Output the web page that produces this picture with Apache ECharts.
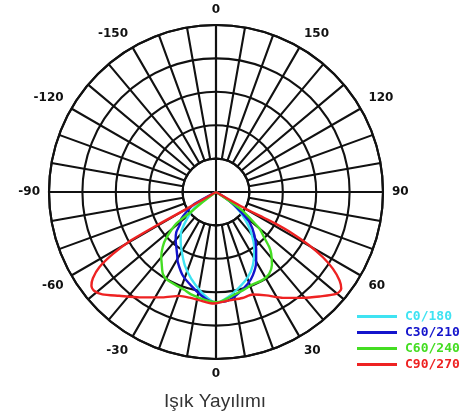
<!DOCTYPE html>
<html>
<head>
<meta charset="utf-8">
<script src="https://cdn.jsdelivr.net/npm/echarts@6/dist/echarts.min.js"></script>
<style>html,body{margin:0;padding:0;background:#fff;}#c{width:473px;height:417px;}</style>
</head>
<body>
<div id="c"></div>
<script>
// ---- data (radius in ring units, angle in degrees from nadir; right side positive) ----
var seriesNames = ['C0/180', 'C30/210', 'C60/240', 'C90/270'];
var angleTicks = [-180, -150, -120, -90, -60, -30, 0, 30, 60, 90, 120, 150, 180];

var c0Angles = [-60, -58, -53, -47, -41, -36, -31.5, -23, -16, -8.4, -4, 0, 6.4, 12.7, 20.5, 26.6, 34, 41, 47, 54, 58, 60];
var c0Values = [0, 0.45, 0.85, 1.2, 1.59, 1.8, 1.99, 2.39, 2.7, 3.03, 3.2, 3.33, 3.17, 2.97, 2.72, 2.46, 2.05, 1.6, 1.17, 0.69, 0.35, 0];

var c30Angles = [-64, -61, -57, -52.4, -48, -44.7, -40, -36.6, -31, -28.6, -21.7, -14.9, -8.1, -3, 0, 6.2, 12.1, 19.1, 23.8, 29.8, 35.3, 41.5, 48, 51.3, 55, 58, 62];
var c30Values = [0, 0.73, 1.0, 1.31, 1.45, 1.69, 1.88, 2.0, 2.25, 2.39, 2.69, 2.9, 3.13, 3.28, 3.3, 3.27, 3.12, 2.91, 2.73, 2.42, 2.08, 1.74, 1.35, 0.97, 0.6, 0.3, 0];

var c60Angles = [-56, -53, -51.4, -51.4, -47, -44, -40, -37, -33, -29, -23, -18, -14, -5, 0, 4, 11, 16, 21, 28, 33, 37.5, 41.8, 44, 46.5, 50, 51.5, 55, 56, 58];
var c60Values = [0, 0.5, 0.89, 1.52, 2.05, 2.3, 2.55, 2.7, 2.92, 3.01, 3.04, 3.08, 3.15, 3.26, 3.3, 3.25, 3.11, 3.04, 2.98, 2.98, 2.92, 2.75, 2.48, 2.3, 2.0, 1.7, 1.4, 0.97, 0.6, 0];

var c90Angles = [-62, -60.2, -60.6, -60.3, -59, -57.2, -55, -53, -51, -48, -43, -36, -27, -19.5, -14, -9, -2, 0, 7, 14, 19.7, 25.9, 32.3, 39.4, 44.7, 49.7, 52.3, 54.4, 56.7, 58.6, 60.3, 61.5, 62, 61.5, 60.5, 60];
var c90Values = [0, 1.0, 2.0, 3.0, 3.6, 4.15, 4.5, 4.67, 4.7, 4.58, 4.25, 3.9, 3.54, 3.3, 3.26, 3.28, 3.34, 3.33, 3.27, 3.27, 3.26, 3.44, 3.75, 4.1, 4.4, 4.72, 4.74, 4.55, 4.19, 3.75, 3.2, 2.6, 2.0, 1.5, 1.0, 0];

var colors = ['#3fe3f2', '#1414cc', '#44dd22', '#ee2222'];

function pairs(angles, values) {
  return angles.map(function (a, i) { return [values[i], a]; });
}
var seriesData = [pairs(c0Angles, c0Values), pairs(c30Angles, c30Values), pairs(c60Angles, c60Values), pairs(c90Angles, c90Values)];

var chart = echarts.init(document.getElementById('c'), null, {renderer: 'canvas'});
var CENTER = [216, 192];
var OUTER = 167;
var gridLine = {show: true, lineStyle: {color: '#111', width: 2.1, type: 'solid'}};

var option = {
  backgroundColor: '#fff',
  animation: false,
  title: {
    text: 'Işık Yayılımı',
    left: 159, top: 387,
    textStyle: {fontFamily: 'Liberation Sans', fontWeight: 'normal', fontSize: 19, color: '#333'}
  },
  legend: {
    orient: 'vertical', left: 352, top: 305,
    icon: 'rect', itemWidth: 40, itemHeight: 3, itemGap: 3,
    textStyle: {fontFamily: 'DejaVu Sans Mono', fontWeight: 'bold', fontSize: 13, padding: [0, 0, 0, 3]},
    data: seriesNames.map(function (n, i) { return {name: n, textStyle: {color: colors[i]}}; })
  },
  polar: [
    {center: CENTER, radius: [OUTER / 5, OUTER]},
    {center: CENTER, radius: [0, OUTER]},
    {center: CENTER, radius: [0, OUTER]}
  ],
  angleAxis: [
    {polarIndex: 0, type: 'value', min: -180, max: 180, interval: 10, startAngle: 90, clockwise: false,
     axisLine: {show: true, lineStyle: {color: '#111', width: 2.1}}, axisTick: {show: false}, axisLabel: {show: false},
     splitLine: gridLine},
    {polarIndex: 1, type: 'value', min: -180, max: 180, interval: 90, startAngle: 90, clockwise: false,
     axisLine: {show: false}, axisTick: {show: false}, axisLabel: {show: false}, splitLine: gridLine},
    {polarIndex: 2, type: 'value', min: angleTicks[0], max: angleTicks[angleTicks.length - 1], interval: 30, startAngle: 90, clockwise: false,
     axisLine: {show: false}, axisTick: {show: false}, splitLine: {show: false},
     axisLabel: {show: true, margin: 9, color: '#111', fontFamily: 'DejaVu Sans', fontWeight: 'bold', fontSize: 12,
       formatter: function (v) { return (v === -180 || v === 180) ? '0' : String(v); }}}
  ],
  radiusAxis: [
    {polarIndex: 0, type: 'value', min: 1, max: 5, interval: 1,
     axisLine: {show: false}, axisTick: {show: false}, axisLabel: {show: false}, splitLine: gridLine},
    {polarIndex: 1, type: 'value', min: 0, max: 5, show: false},
    {polarIndex: 2, type: 'value', min: 0, max: 5, show: false}
  ],
  series: seriesNames.map(function (n, i) {
    return {
      name: n, type: 'line', coordinateSystem: 'polar', polarIndex: 2,
      data: seriesData[i], showSymbol: false, symbol: 'none', smooth: 0.25, z: 5 + i,
      lineStyle: {color: colors[i], width: 2.4}, itemStyle: {color: colors[i]}
    };
  })
};
chart.setOption(option);
</script>
</body>
</html>
